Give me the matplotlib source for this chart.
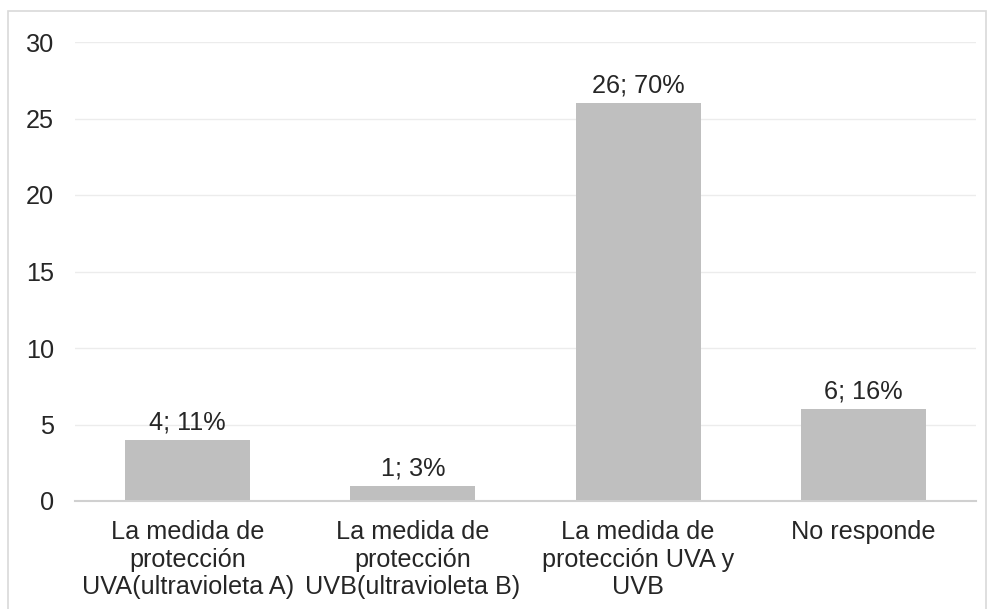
import matplotlib
matplotlib.use("Agg")
import matplotlib.pyplot as plt
from matplotlib.patches import Rectangle

plt.rcParams['font.family'] = ['Liberation Sans', 'DejaVu Sans']

categories = ["La medida de\nprotección\nUVA(ultravioleta A)",
              "La medida de\nprotección\nUVB(ultravioleta B)",
              "La medida de\nprotección UVA y\nUVB",
              "No responde"]
counts = [4, 1, 26, 6]
percents = ["11%", "3%", "70%", "16%"]
yticks = [0, 5, 10, 15, 20, 25, 30]

FS = 18.2
fig = plt.figure(figsize=(9.9, 6.09), dpi=100)
ax = fig.add_axes([75/990, 1-501/609, (976-75)/990, (501-42)/609])

x = list(range(len(categories)))
bars = ax.bar(x, counts, width=0.555, color='#bfbfbf', zorder=3)
for xi, c, p in zip(x, counts, percents):
    ax.annotate(f"{c}; {p}", (xi, c), xytext=(0, 4), textcoords='offset points',
                ha='center', va='bottom', fontsize=FS, color='#262626')

ax.set_xlim(-0.5, len(categories)-0.5)
ax.set_ylim(0, 30)
ax.set_yticks(yticks)
ax.set_xticks(x)
ax.set_xticklabels(categories, fontsize=FS, color='#262626', linespacing=1.2)
ax.tick_params(axis='y', length=0, pad=15, labelsize=FS, labelcolor='#262626')
ax.tick_params(axis='x', length=0, pad=13.5)
ax.grid(axis='y', color='#ececec', linewidth=1, zorder=0)
for s in ['top', 'right', 'left']:
    ax.spines[s].set_visible(False)
ax.spines['bottom'].set_color('#d0d0d0')
ax.spines['bottom'].set_linewidth(1.5)
ax.spines['bottom'].set_zorder(4)

fig.patches.append(Rectangle((8/990, -0.01), (986-8)/990, 1-11/609+0.01,
                             transform=fig.transFigure, fill=False,
                             edgecolor='#d9d9d9', linewidth=1.2))

fig.savefig("out.png", dpi=100)
